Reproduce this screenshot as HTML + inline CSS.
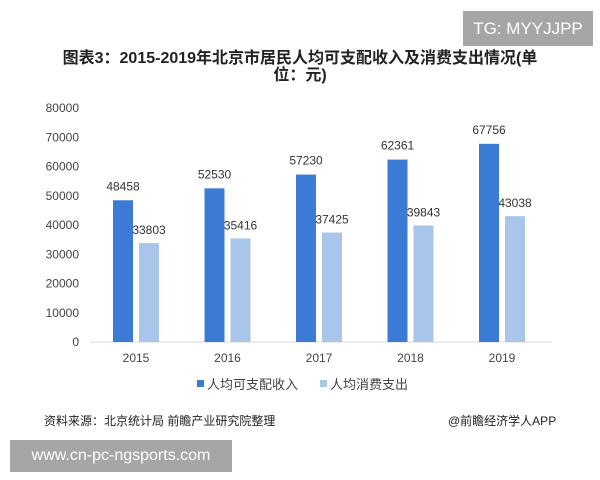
<!DOCTYPE html>
<html><head><meta charset="utf-8"><style>
body{margin:0;width:600px;height:480px;background:#fff;overflow:hidden;font-family:"Liberation Sans","Noto Sans CJK SC",sans-serif;position:relative}
.abs{position:absolute}
</style></head><body>
<div class="abs" style="left:463px;top:11px;width:130px;height:35px;background:#a6a6a6;color:#fff;font-size:17px;line-height:35px;text-align:center">TG: MYYJJPP</div>
<div class="abs" style="left:30px;top:50px;width:540px;text-align:center;font-size:16px;font-weight:bold;color:#222;line-height:17px">图表3：2015-2019年北京市居民人均可支配收入及消费支出情况(单<br>位：元)</div>
<svg class="abs" style="left:0;top:0" width="600" height="480" id="chart"></svg>
<div class="abs" style="left:44px;top:412px;font-size:12px;color:#222">资料来源：北京统计局 前瞻产业研究院整理</div>
<div class="abs" style="left:448px;top:412px;font-size:12px;color:#222">@前瞻经济学人APP</div>
<div class="abs" style="left:10px;top:440px;width:222px;height:32px;background:#a6a6a6;color:#fff;font-size:16px;line-height:32px;text-align:center">www.cn-pc-ngsports.com</div>
<script>
const categories=["2015","2016","2017","2018","2019"];
const income=[48458,52530,57230,62361,67756];
const spending=[33803,35416,37425,39843,43038];
const ticks=[0,10000,20000,30000,40000,50000,60000,70000,80000];
const svg=document.getElementById('chart');
const NS='http://www.w3.org/2000/svg';
const y=v=>342-v*(234/80000);
const x=i=>123+i*91.5;
function mk(t,a,txt){const e=document.createElementNS(NS,t);for(const k in a)e.setAttribute(k,a[k]);if(txt!==undefined)e.textContent=txt;svg.appendChild(e);return e;}
ticks.forEach(t=>{const e=mk('text',{x:79,y:y(t)+4,'text-anchor':'end','font-size':12,fill:'#444'},String(t));

});
const ax=mk('line',{x1:90,x2:552,y1:342,y2:342,stroke:'#d9d9d9'});


categories.forEach((c,i)=>{
const b1=mk('rect',{x:x(i)-10,y:y(income[i]),width:20,height:342-y(income[i]),fill:'#3b7bd6'});


const b2=mk('rect',{x:x(i)+16,y:y(spending[i]),width:20,height:342-y(spending[i]),fill:'#a9c6ea'});


const l1=mk('text',{x:x(i),y:y(income[i])-10,'text-anchor':'middle','font-size':12,fill:'#333'},String(income[i]));


const l2=mk('text',{x:x(i)+26,y:y(spending[i])-9,'text-anchor':'middle','font-size':12,fill:'#333'},String(spending[i]));


const xl=mk('text',{x:x(i)+13,y:362,'text-anchor':'middle','font-size':12,fill:'#444'},c);


});
const lg1=mk('rect',{x:197,y:380,width:7,height:7,fill:'#3b7bd6'});


const lt1=mk('text',{x:207,y:389,'font-size':13,fill:'#444'},'人均可支配收入');


const lg2=mk('rect',{x:320,y:380,width:7,height:7,fill:'#a9c6ea'});


const lt2=mk('text',{x:330,y:389,'font-size':13,fill:'#444'},'人均消费支出');


</script>
</body></html>
